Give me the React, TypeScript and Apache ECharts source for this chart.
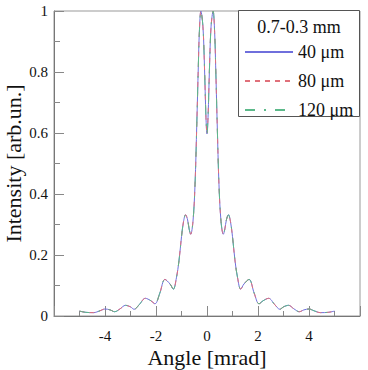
import React, { useEffect, useRef } from "react";
import * as echarts from "echarts";

const FONT = "'Liberation Serif', 'Times New Roman', serif";

const halfAngles = [-5.0, -4.75, -4.45, -4.2, -4.0, -3.8, -3.62, -3.4, -3.2, -3.0, -2.86, -2.65, -2.42, -2.2, -2.04, -1.85, -1.65, -1.45, -1.32, -1.2, -1.1, -1.0, -0.92, -0.84, -0.76, -0.7, -0.64, -0.55, -0.47, -0.4, -0.34, -0.3, -0.24, -0.16, -0.1, -0.04];
const halfIntensity = [0.016, 0.012, 0.011, 0.017, 0.023, 0.02, 0.014, 0.024, 0.035, 0.03, 0.022, 0.038, 0.058, 0.05, 0.04, 0.075, 0.12, 0.105, 0.088, 0.125, 0.18, 0.26, 0.31, 0.332, 0.315, 0.285, 0.268, 0.31, 0.43, 0.63, 0.82, 0.93, 1.0, 0.95, 0.82, 0.65];
const centerAngle = 0;
const centerIntensity = 0.597;

const angles = [...halfAngles, centerAngle, ...halfAngles.slice().reverse().map((a) => -a)];
const intensity40 = [...halfIntensity, centerIntensity, ...halfIntensity.slice().reverse()];
const intensity80 = [...intensity40];
const intensity120 = [...intensity40];

const seriesNames = ["40 μm", "80 μm", "120 μm"];
const seriesColors = ["#6f6fdc", "#e0707a", "#5cb98a"];
const legendTitle = "0.7-0.3 mm";
const xTitle = "Angle [mrad]";
const yTitle = "Intensity [arb.un.]";

export default function App() {
  const ref = useRef<HTMLDivElement>(null);
  useEffect(() => {
    if (!ref.current) return;
    const chart = echarts.init(ref.current, null, { renderer: "svg" });
    const mk = (vals: number[]) => angles.map((a, i) => [a, vals[i]]);
    const lineTypes: any[] = ["solid", [5, 5], [10, 9, 2, 9]];
    const datasets = [intensity40, intensity80, intensity120];
    chart.setOption({
      animation: false,
      textStyle: { fontFamily: FONT },
      grid: {
        left: 54, top: 11, right: 8, bottom: 54,
        show: true, borderColor: "#999", borderWidth: 1,
        containLabel: false, outerBoundsMode: "none",
      },
      xAxis: {
        type: "value",
        min: -6,
        max: 6,
        interval: 2,
        name: xTitle,
        nameLocation: "middle",
        nameGap: 30,
        nameMoveOverlap: false,
        nameTextStyle: { fontSize: 22, color: "#111", fontFamily: FONT },
        axisLine: { show: true, onZero: false, lineStyle: { color: "#777", width: 1 } },
        axisTick: { show: true, inside: true, length: 10, lineStyle: { color: "#888" } },
        minorTick: { show: true, splitNumber: 2, length: 5, lineStyle: { color: "#888" } },
        splitLine: { show: false },
        axisLabel: {
          fontSize: 15,
          color: "#111",
          margin: 12,
          fontFamily: FONT,
          formatter: (v: number) => (Math.abs(v) >= 6 ? "" : String(v)),
        },
      },
      yAxis: {
        type: "value",
        min: 0,
        max: 1,
        interval: 0.2,
        name: yTitle,
        nameLocation: "middle",
        nameGap: 30,
        nameMoveOverlap: false,
        nameTextStyle: { fontSize: 22, color: "#111", fontFamily: FONT },
        axisLine: { show: true, onZero: false, lineStyle: { color: "#777", width: 1 } },
        axisTick: { show: true, inside: true, length: 10, lineStyle: { color: "#888" } },
        minorTick: { show: true, splitNumber: 2, length: 6, lineStyle: { color: "#888" } },
        splitLine: { show: false },
        axisLabel: { fontSize: 15, color: "#111", margin: 6, fontFamily: FONT },
      },
      legend: {
        orient: "vertical",
        left: 244,
        top: 43,
        padding: 0,
        itemWidth: 48,
        itemHeight: 14,
        itemGap: 11,
        z: 20,
        data: seriesNames,
        itemStyle: { opacity: 0 },
        textStyle: { fontSize: 18, color: "#111", fontFamily: FONT },
      },
      graphic: [
        {
          type: "rect",
          shape: { x: 238.5, y: 10.5, width: 121, height: 106 },
          style: { fill: "#fff", stroke: "#555", lineWidth: 1 },
          z: 5,
        },
        {
          type: "text",
          x: 299,
          y: 27,
          style: { text: legendTitle, font: `18px ${FONT}`, fill: "#111", textAlign: "center", textVerticalAlign: "middle" },
          z: 21,
        },
      ],
      series: datasets.map((vals, i) => ({
        type: "line",
        name: seriesNames[i],
        data: mk(vals),
        showSymbol: false,
        symbol: "none",
        smooth: 0.35,
        lineStyle: { color: seriesColors[i], width: 1, type: lineTypes[i] },
        itemStyle: { color: seriesColors[i] },
        z: 2 + i,
      })),
    });
    return () => chart.dispose();
  }, []);
  return <div ref={ref} style={{ width: 368, height: 370, position: "absolute", left: 0, top: 0 }} />;
}
